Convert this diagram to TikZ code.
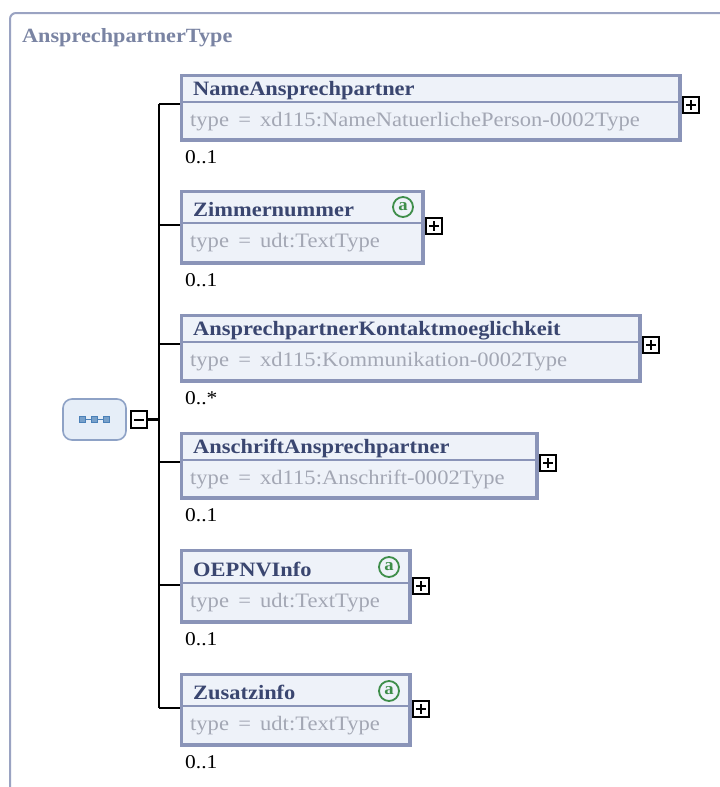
\documentclass[tikz,border=0pt]{standalone}
\usepackage{fontspec}
\setmainfont{Liberation Serif}[FakeStretch=1.1]
\usetikzlibrary{calc}

\definecolor{frameline}{HTML}{9AA3C2}
\definecolor{boxline}{HTML}{8A94B8}
\definecolor{boxfill}{HTML}{EEF2F9}
\definecolor{nametext}{HTML}{3A4670}
\definecolor{typetext}{HTML}{A3A7B4}
\definecolor{titletext}{HTML}{7A84A3}
\definecolor{attrgreen}{HTML}{3E8E4A}
\definecolor{seqfill}{HTML}{E6EEF8}
\definecolor{seqline}{HTML}{8EA2C6}
\definecolor{seqdot}{HTML}{4A80B8}

\newcommand\eqsp{\hspace{0.45em}=\hspace{0.45em}}

\tikzset{
  elbox/.style={draw=boxline, line width=3.5pt, fill=boxfill, anchor=north west, inner sep=0pt},
  divline/.style={draw=boxline, line width=2pt},
  elname/.style={anchor=base west, inner sep=0pt, font=\fontsize{20.4}{24}\selectfont\bfseries, text=nametext},
  eltype/.style={anchor=base west, inner sep=0pt, font=\fontsize{20.5}{24}\selectfont, text=typetext},
  mult/.style={anchor=base west, inner sep=0pt, font=\fontsize{19.5}{24}\selectfont, text=black},
  title/.style={anchor=base west, inner sep=0pt, font=\fontsize{20.2}{24}\selectfont\bfseries, text=titletext},
  conn/.style={line width=2.4pt, black},
  expander/.style={draw=black, fill=white, line width=1.8pt, minimum size=16.5pt, inner sep=0pt, anchor=west},
  signline/.style={line width=2pt, black},
  attr/.style={circle, draw=attrgreen, line width=1.8pt, fill=boxfill, minimum size=20pt, inner sep=0pt,
    text=attrgreen, font=\fontsize{17}{17}\selectfont\bfseries},
  seqbox/.style={draw=seqline, fill=seqfill, line width=1.6pt, rounded corners=9pt,
    minimum width=63pt, minimum height=41pt, inner sep=0pt},
  seqsq/.style={draw=seqdot, fill=seqdot!75, line width=0.8pt, minimum size=6pt, inner sep=0pt},
}

% #1 id, #2 left, #3 top, #4 right, #5 bottom, #6 divider y, #7 name, #8 type, #9 multiplicity
\newcommand\xsdelement[9]{%
  \node[elbox, minimum width={#4-#2-3.5}, minimum height={#5-#3-3.5}] (#1) at (#2+1.75,#3+1.75) {};
  \draw[divline] (#1.west |- 0,#6) -- (#1.east |- 0,#6);
  \node[elname] (#1-name) at (#2+15,#6-7) {#7};
  \node[eltype] (#1-type) at (#2+12,#6+24) {type\eqsp#8};
  \node[mult] (#1-mult) at (#2+7,#5+23) {#9};
  \node[expander] (#1-exp) at (#1.east |- 0,#6+3) {};
  \draw[signline] ($(#1-exp.center)+(-5,0)$) -- ($(#1-exp.center)+(5,0)$);
  \draw[signline] ($(#1-exp.center)+(0,-5)$) -- ($(#1-exp.center)+(0,5)$);
  \coordinate (#1-in) at (#1.west |- 0,#6+2);
}

\begin{document}
\begin{tikzpicture}[x=1pt,y=-1pt]
  \useasboundingbox (0,0) rectangle (720,787);
  \fill[white] (0,0) rectangle (720,787);

  % complex type frame (open to the right and bottom)
  \draw[frameline, line width=2pt, rounded corners=6pt] (10,787) -- (10,13) -- (720,13);
  \node[title] (typename) at (22,42) {AnsprechpartnerType};

  % child elements
  \xsdelement{e1}{178}{72}{680}{140}{102}{NameAnsprechpartner}{xd115:NameNatuerlichePerson-0002Type}{0..1}
  \xsdelement{e2}{178}{188}{423}{263}{223}{Zimmernummer}{udt:TextType}{0..1}
  \xsdelement{e3}{178}{312}{640}{381}{342}{AnsprechpartnerKontaktmoeglichkeit}{xd115:Kommunikation-0002Type}{0..*}
  \xsdelement{e4}{178}{430}{537}{498}{460}{AnschriftAnsprechpartner}{xd115:Anschrift-0002Type}{0..1}
  \xsdelement{e5}{178}{547}{410}{622}{583}{OEPNVInfo}{udt:TextType}{0..1}
  \xsdelement{e6}{178}{671}{410}{745}{706}{Zusatzinfo}{udt:TextType}{0..1}

  % attribute markers
  \node[attr] (e2-attr) at (403,207) {a};
  \node[attr] (e5-attr) at (389,567) {a};
  \node[attr] (e6-attr) at (389,691) {a};

  % sequence compositor
  \node[seqbox] (seq) at (94.5,419.5) {};
  \draw[seqdot, line width=1.4pt] ($(seq.center)+(-12,0)$) -- ($(seq.center)+(12,0)$);
  \node[seqsq] (sq1) at ($(seq.center)+(-12,0)$) {};
  \node[seqsq] (sq2) at (seq.center) {};
  \node[seqsq] (sq3) at ($(seq.center)+(12,0)$) {};
  \node[expander] (seq-exp) at ($(seq.east)+(3,0)$) {};
  \draw[signline] ($(seq-exp.center)+(-5,0)$) -- ($(seq-exp.center)+(5,0)$);

  % connectors
  \coordinate (spine) at ($(seq-exp.east)+(11,0)$);
  \draw[conn] (seq-exp.east) -- (spine);
  \draw[conn] (e1-in -| spine) -- (e6-in -| spine);
  \foreach \e in {e1,e2,e3,e4,e5,e6}
    \draw[conn] (\e-in -| spine) -- (\e-in);
\end{tikzpicture}
\end{document}
